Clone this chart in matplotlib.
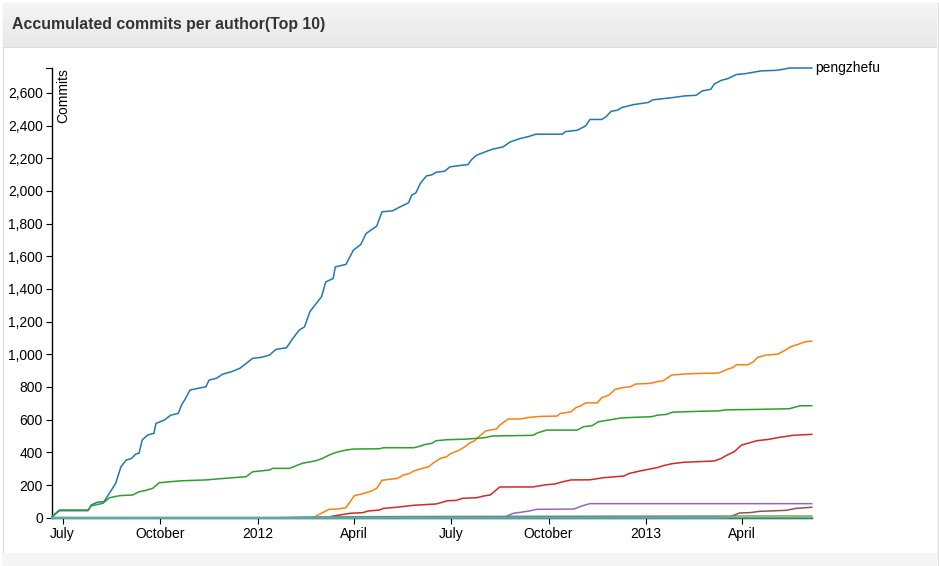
import matplotlib
matplotlib.use("Agg")
import matplotlib.pyplot as plt
import matplotlib.dates as mdates
import matplotlib.ticker as mticker
from matplotlib.patches import Rectangle
import numpy as np
import pandas as pd

plt.rcParams['font.family'] = ['Liberation Sans', 'DejaVu Sans']

TITLE = "Accumulated commits per author(Top 10)"
Y_LABEL = "Commits"
LABELED_AUTHOR = "pengzhefu"

# ---------------- data ----------------
pengzhefu_dates = ["2011-06-21", "2011-06-28", "2011-07-25", "2011-07-28", "2011-08-03", "2011-08-09",
                   "2011-08-16", "2011-08-20", "2011-08-25", "2011-08-30", "2011-09-04", "2011-09-08",
                   "2011-09-11", "2011-09-14", "2011-09-19", "2011-09-25", "2011-09-27", "2011-10-05",
                   "2011-10-11", "2011-10-18", "2011-10-21", "2011-10-24", "2011-10-29", "2011-11-05",
                   "2011-11-13", "2011-11-16", "2011-11-23", "2011-11-29", "2011-12-07", "2011-12-15",
                   "2011-12-21", "2011-12-27", "2012-01-04", "2012-01-12", "2012-01-18", "2012-01-28",
                   "2012-02-03", "2012-02-09", "2012-02-14", "2012-02-19", "2012-02-25", "2012-03-01",
                   "2012-03-05", "2012-03-12", "2012-03-14", "2012-03-24", "2012-03-31", "2012-04-07",
                   "2012-04-12", "2012-04-22", "2012-04-27", "2012-05-07", "2012-05-14", "2012-05-22",
                   "2012-05-25", "2012-05-29", "2012-06-02", "2012-06-08", "2012-06-13", "2012-06-17",
                   "2012-06-25", "2012-06-30", "2012-07-09", "2012-07-17", "2012-07-20", "2012-07-25",
                   "2012-08-02", "2012-08-09", "2012-08-19", "2012-08-26", "2012-09-04", "2012-09-13",
                   "2012-09-19", "2012-10-14", "2012-10-17", "2012-10-28", "2012-11-05", "2012-11-09",
                   "2012-11-20", "2012-11-24", "2012-11-29", "2012-12-05", "2012-12-09", "2012-12-20",
                   "2013-01-03", "2013-01-07", "2013-01-26", "2013-02-06", "2013-02-17", "2013-02-23",
                   "2013-03-03", "2013-03-06", "2013-03-13", "2013-03-19", "2013-03-27", "2013-04-05",
                   "2013-04-19", "2013-05-04", "2013-05-10", "2013-05-16", "2013-06-06"]
pengzhefu_values = [5, 43, 43, 78, 95, 98,
                    169, 210, 312, 353, 363, 390,
                    394, 475, 506, 516, 577, 598,
                    628, 638, 689, 720, 781, 791,
                    801, 842, 853, 879, 893, 914,
                    944, 975, 981, 995, 1030, 1040,
                    1097, 1148, 1168, 1260, 1311, 1352,
                    1443, 1464, 1535, 1550, 1637, 1672,
                    1739, 1784, 1872, 1878, 1902, 1927,
                    1974, 1988, 2045, 2092, 2098, 2114,
                    2120, 2147, 2155, 2161, 2188, 2218,
                    2238, 2255, 2269, 2300, 2320, 2334,
                    2347, 2347, 2363, 2371, 2398, 2437,
                    2437, 2453, 2487, 2494, 2510, 2528,
                    2541, 2557, 2571, 2581, 2585, 2612,
                    2622, 2653, 2677, 2687, 2712, 2718,
                    2734, 2738, 2744, 2752, 2752]

author2_dates = ["2011-06-21", "2012-02-22", "2012-03-08", "2012-03-16", "2012-03-24", "2012-04-01",
                 "2012-04-09", "2012-04-17", "2012-04-22", "2012-04-27", "2012-05-04", "2012-05-12",
                 "2012-05-17", "2012-05-23", "2012-05-27", "2012-06-01", "2012-06-10", "2012-06-14",
                 "2012-06-21", "2012-06-27", "2012-06-30", "2012-07-09", "2012-07-14", "2012-07-19",
                 "2012-07-23", "2012-07-28", "2012-08-03", "2012-08-13", "2012-08-16", "2012-08-24",
                 "2012-09-04", "2012-09-13", "2012-09-23", "2012-10-09", "2012-10-12", "2012-10-22",
                 "2012-10-27", "2012-10-31", "2012-11-05", "2012-11-16", "2012-11-20", "2012-11-27",
                 "2012-12-03", "2012-12-11", "2012-12-17", "2012-12-22", "2013-01-05", "2013-01-11",
                 "2013-01-17", "2013-01-25", "2013-02-05", "2013-02-20", "2013-03-10", "2013-03-14",
                 "2013-03-19", "2013-03-24", "2013-03-27", "2013-04-07", "2013-04-12", "2013-04-16",
                 "2013-04-24", "2013-05-05", "2013-05-11", "2013-05-17", "2013-05-24", "2013-05-30",
                 "2013-06-06"]
author2_values = [0, 0, 51, 53, 61, 135,
                  147, 163, 180, 229, 235, 241,
                  261, 271, 286, 296, 312, 333,
                  363, 373, 390, 414, 434, 459,
                  469, 500, 532, 543, 567, 604,
                  604, 614, 620, 622, 638, 648,
                  675, 683, 703, 703, 734, 751,
                  787, 797, 801, 818, 822, 832,
                  838, 873, 879, 883, 885, 895,
                  909, 920, 936, 936, 954, 981,
                  995, 1001, 1021, 1046, 1060, 1075,
                  1081]

author3_dates = ["2011-06-21", "2011-06-28", "2011-07-25", "2011-07-28", "2011-08-08", "2011-08-14",
                 "2011-08-24", "2011-09-05", "2011-09-11", "2011-09-16", "2011-09-24", "2011-09-30",
                 "2011-10-10", "2011-10-21", "2011-11-13", "2011-11-20", "2011-12-01", "2011-12-21",
                 "2011-12-27", "2012-01-12", "2012-01-15", "2012-01-31", "2012-02-06", "2012-02-12",
                 "2012-02-25", "2012-03-02", "2012-03-08", "2012-03-15", "2012-03-24", "2012-03-31",
                 "2012-04-25", "2012-04-28", "2012-05-27", "2012-06-02", "2012-06-07", "2012-06-13",
                 "2012-06-17", "2012-06-27", "2012-07-16", "2012-08-01", "2012-08-09", "2012-09-16",
                 "2012-09-21", "2012-09-29", "2012-10-28", "2012-11-03", "2012-11-11", "2012-11-17",
                 "2012-11-28", "2012-12-08", "2012-12-20", "2013-01-06", "2013-01-12", "2013-01-20",
                 "2013-01-26", "2013-02-20", "2013-03-11", "2013-03-17", "2013-04-18", "2013-05-16",
                 "2013-05-26", "2013-06-06"]
author3_values = [8, 47, 47, 73, 88, 122,
                  135, 139, 159, 165, 180, 214,
                  220, 226, 231, 235, 241, 251,
                  281, 292, 302, 302, 318, 333,
                  349, 363, 383, 400, 414, 420,
                  422, 428, 428, 438, 449, 455,
                  471, 477, 481, 489, 500, 504,
                  520, 536, 536, 557, 563, 587,
                  599, 610, 614, 618, 628, 632,
                  646, 651, 654, 660, 663, 667,
                  685, 685]

author4_dates = ["2011-06-21", "2012-03-04", "2012-03-12", "2012-03-28", "2012-04-09", "2012-04-14",
                 "2012-04-25", "2012-04-28", "2012-05-11", "2012-05-27", "2012-06-17", "2012-06-28",
                 "2012-07-06", "2012-07-12", "2012-07-25", "2012-08-01", "2012-08-07", "2012-08-16",
                 "2012-09-16", "2012-09-29", "2012-10-07", "2012-10-12", "2012-10-22", "2012-11-09",
                 "2012-11-22", "2012-12-11", "2012-12-16", "2012-12-27", "2013-01-11", "2013-01-17",
                 "2013-01-25", "2013-02-05", "2013-03-06", "2013-03-13", "2013-03-17", "2013-03-25",
                 "2013-04-01", "2013-04-10", "2013-04-15", "2013-04-26", "2013-05-07", "2013-05-19",
                 "2013-06-06"]
author4_values = [0, 0, 10, 27, 31, 41,
                  47, 57, 64, 76, 84, 104,
                  106, 119, 122, 133, 139, 188,
                  188, 202, 206, 216, 231, 232,
                  245, 255, 271, 287, 306, 318,
                  330, 339, 347, 363, 379, 404,
                  445, 461, 471, 479, 492, 504,
                  510]

author5_dates = ["2011-06-21", "2012-08-19", "2012-08-29", "2012-09-13", "2012-09-19", "2012-10-25",
                 "2012-11-02", "2012-11-09", "2013-06-06"]
author5_values = [0, 0, 27, 41, 51, 53, 73, 86, 86]

author6_dates = ["2011-06-21", "2013-03-19", "2013-03-30", "2013-04-09", "2013-04-18", "2013-05-13",
                 "2013-05-22", "2013-06-06"]
author6_values = [0, 0, 29, 31, 39, 45, 57, 64]

author7_dates = ["2011-06-21", "2012-02-01", "2012-03-01", "2013-06-06"]
author7_values = [0, 0, 2, 3]

author8_dates = ["2011-06-21", "2012-01-20", "2012-02-15", "2012-03-20", "2012-08-01", "2013-03-01",
                 "2013-06-06"]
author8_values = [0, 0, 4, 6, 8, 10, 10]

author9_dates = ["2011-06-21", "2013-03-10", "2013-04-01", "2013-06-06"]
author9_values = [0, 0, 6, 8]

author10_dates = ["2011-06-21", "2013-06-06"]
author10_values = [0, 0]

series = [
    (pengzhefu_dates, pengzhefu_values),
    (author2_dates, author2_values),
    (author3_dates, author3_values),
    (author4_dates, author4_values),
    (author5_dates, author5_values),
    (author6_dates, author6_values),
    (author7_dates, author7_values),
    (author8_dates, author8_values),
    (author9_dates, author9_values),
    (author10_dates, author10_values),
]
colors = ["#1f77b4", "#ff7f0e", "#2ca02c", "#d62728", "#9467bd",
          "#8c564b", "#e377c2", "#7f7f7f", "#bcbd22", "#17becf"]

y_ticks = list(range(0, 2601, 200))
x_tick_dates = ["2011-07-01", "2011-10-01", "2012-01-01", "2012-04-01",
                "2012-07-01", "2012-10-01", "2013-01-01", "2013-04-01"]

# ---------------- figure / panel ----------------
W, H, DPI = 939, 566, 100
fig = plt.figure(figsize=(W / DPI, H / DPI), dpi=DPI)
fig.patch.set_facecolor("white")

def px_rect(x0, y0, x1, y1, **kw):
    # pixel coords (top-left origin) -> figure fraction
    return Rectangle((x0 / W, 1 - y1 / H), (x1 - x0) / W, (y1 - y0) / H,
                     transform=fig.transFigure, **kw)

# panel border
fig.patches.append(px_rect(2.5, 2.5, 937.5, 570, facecolor="white", edgecolor="#dddddd",
                           linewidth=1, zorder=-20))
# footer band
fig.patches.append(px_rect(3, 553, 937, 566, facecolor="#f5f5f5", edgecolor="none", zorder=-19))
# header gradient
grad = np.linspace(0, 1, 64).reshape(-1, 1)
hdr_ax = fig.add_axes([3 / W, 1 - 47 / H, 934 / W, 44 / H], zorder=-5)
c_top = np.array([0xf5, 0xf5, 0xf5]) / 255
c_bot = np.array([0xe8, 0xe8, 0xe8]) / 255
img = c_top[None, None, :] * (1 - grad[:, :, None]) + c_bot[None, None, :] * grad[:, :, None]
hdr_ax.imshow(img, aspect="auto", extent=[0, 1, 0, 1])
hdr_ax.set_axis_off()
fig.patches.append(px_rect(3, 47, 937, 48, facecolor="#dddddd", edgecolor="none", zorder=-4))
fig.text(12 / W, 1 - 25 / H, TITLE, fontsize=11.4, fontweight="bold", color="#333333",
         ha="left", va="center", zorder=5)

# ---------------- chart ----------------
left, right = 52 / W, 811.7 / W
bottom, top = 1 - 517.7 / H, 1 - 68 / H
ax = fig.add_axes([left, bottom, right - left, top - bottom], zorder=1)
ax.set_facecolor("none")

all_dates = [pd.to_datetime(d) for d, _ in series]
xmin = min(d.min() for d in all_dates)
xmax = max(d.max() for d in all_dates)
ymax = max(max(v) for _, v in series)

for (d, v), c in zip(series, colors):
    ax.plot(pd.to_datetime(d), v, color=c, linewidth=1.1, solid_joinstyle="round",
            clip_on=False, zorder=3)

ax.set_xlim(xmin, xmax)
ax.set_ylim(0, ymax)

ax.spines["top"].set_visible(False)
ax.spines["right"].set_visible(False)
for s in ("left", "bottom"):
    ax.spines[s].set_color("black")
    ax.spines[s].set_linewidth(1.0)
    ax.spines[s].set_zorder(2)

ax.set_yticks(y_ticks)
ax.yaxis.set_major_formatter(mticker.FuncFormatter(lambda v, p: f"{int(v):,}"))

def fmt_date(x, pos=None):
    d = mdates.num2date(x)
    if d.month == 1:
        return str(d.year)
    return d.strftime("%B")
ax.set_xticks(pd.to_datetime(x_tick_dates))
ax.xaxis.set_major_formatter(mticker.FuncFormatter(fmt_date))

ax.tick_params(axis="both", direction="out", length=4.3, width=0.8, colors="black",
               labelsize=10, pad=2.2)

# top end cap on y axis (outer tick)
ax.plot([-6 / (W * (right - left)), 0], [1, 1], color="black", linewidth=0.8,
        transform=ax.transAxes, clip_on=False)

# y label
ax.annotate(Y_LABEL, xy=(0, 1), xycoords="axes fraction", xytext=(7.9, 0),
            textcoords="offset points", rotation=90, ha="center", va="top",
            fontsize=10, color="black")

# end label for top author
ax.annotate(LABELED_AUTHOR, xy=(pd.to_datetime(pengzhefu_dates[-1]), pengzhefu_values[-1]),
            xytext=(2.5, 0), textcoords="offset points", ha="left", va="center",
            fontsize=10, color="black", annotation_clip=False)

fig.savefig("out.png", dpi=DPI)
